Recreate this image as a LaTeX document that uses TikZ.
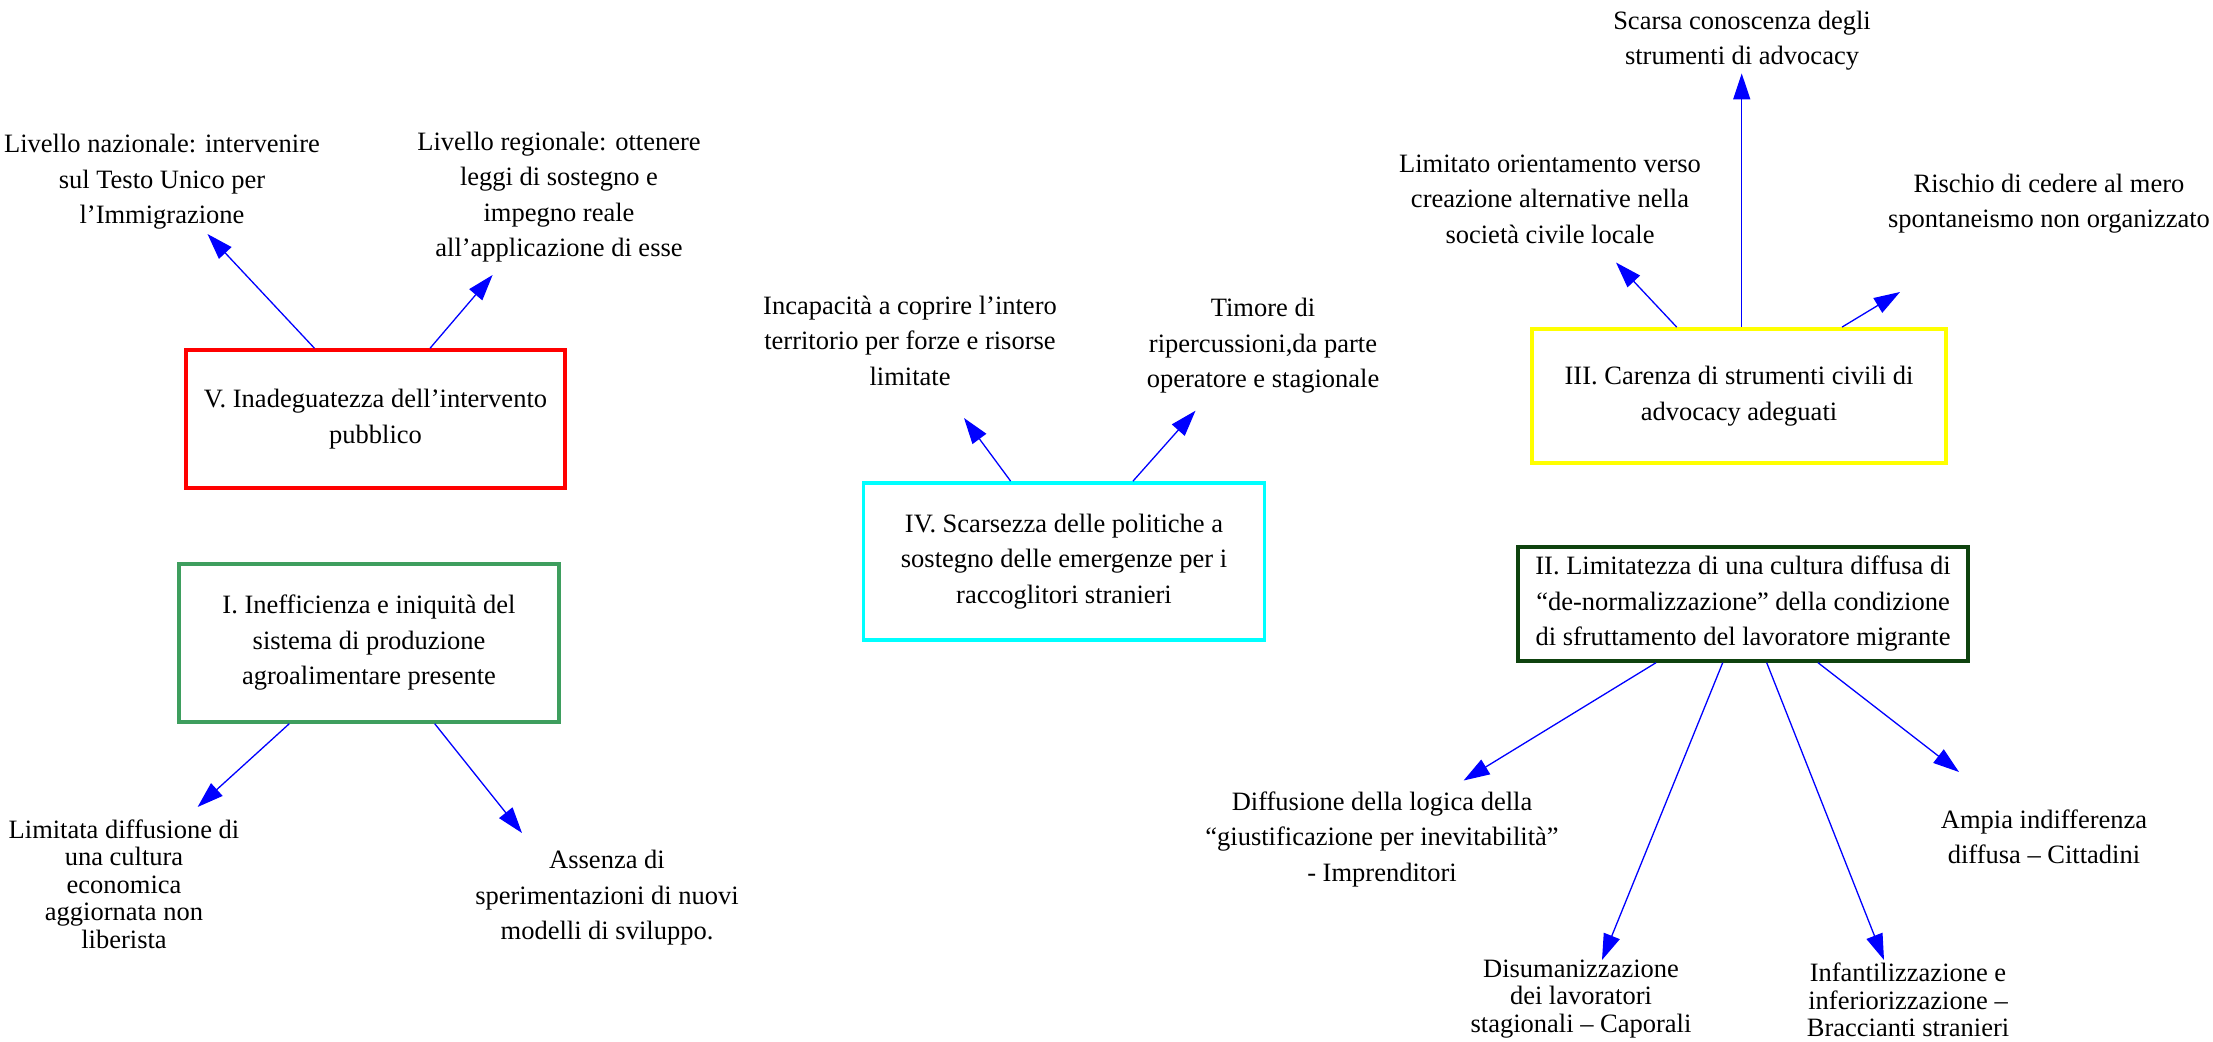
\documentclass[tikz,border=0pt]{standalone}
\usepackage{fontspec}
\setmainfont{Liberation Serif}
\usetikzlibrary{arrows.meta}
\definecolor{boxgreen}{HTML}{3E9E5E}
\definecolor{darkgreen}{HTML}{0E420E}
\definecolor{boxcyan}{HTML}{00FFFF}
\definecolor{boxyellow}{HTML}{FFFF00}
\definecolor{boxred}{HTML}{FF0000}
\definecolor{arrblue}{HTML}{0000FF}
\tikzset{
  lbl/.style={align=center, inner sep=0pt, font=\fontsize{26.5}{35.5}\selectfont},
  tight/.style={font=\fontsize{26.5}{27.5}\selectfont},
  box/.style={draw, align=center, inner sep=0pt, line width=3.4pt, font=\fontsize{26.5}{35.5}\selectfont},
  arr/.style={draw=arrblue, line width=1.3pt, -{Triangle[length=26pt,width=17pt]}, arrblue}
}
\begin{document}
\begin{tikzpicture}[x=1pt,y=-1pt]
\useasboundingbox (0,0) rectangle (2213,1041);
% boxes
\node[box, draw=boxred, minimum width=379pt, minimum height=138pt] (V) at (375.5,419) {V. Inadeguatezza dell’intervento\\pubblico};
\node[box, draw=boxgreen, minimum width=380pt, minimum height=158pt] (I) at (369,643) {I. Inefficienza e iniquità del\\sistema di produzione\\agroalimentare presente};
\node[box, draw=boxcyan, line width=3.8pt, minimum width=401pt, minimum height=157pt] (IV) at (1064,561.5) {IV. Scarsezza delle politiche a\\sostegno delle emergenze per i\\raccoglitori stranieri};
\node[box, draw=boxyellow, line width=3.8pt, minimum width=414pt, minimum height=134pt] (III) at (1739,396) {III. Carenza di strumenti civili di\\advocacy adeguati};
\node[box, draw=darkgreen, minimum width=450pt, minimum height=114pt] (II) at (1743,604) {II. Limitatezza di una cultura diffusa di\\“de-normalizzazione” della condizione\\di sfruttamento del lavoratore migrante};
% labels
\node[lbl] (nat) at (162,182) {Livello nazionale: intervenire\\sul Testo Unico per\\l’Immigrazione};
\node[lbl] (reg) at (559,197) {Livello regionale: ottenere\\leggi di sostegno e\\impegno reale\\all’applicazione di esse};
\node[lbl,tight] (lim) at (124,884) {Limitata diffusione di\\una cultura\\economica\\aggiornata non\\liberista};
\node[lbl] (ass) at (607,898) {Assenza di\\sperimentazioni di nuovi\\modelli di sviluppo.};
\node[lbl] (inc) at (910,340.5) {Incapacità a coprire l’intero\\territorio per forze e risorse\\limitate};
\node[lbl] (tim) at (1263,346) {Timore di\\ripercussioni,da parte\\operatore e stagionale};
\node[lbl] (sca) at (1742,40.5) {Scarsa conoscenza degli\\strumenti di advocacy};
\node[lbl] (lio) at (1550,199) {Limitato orientamento verso\\creazione alternative nella\\società civile locale};
\node[lbl] (ris) at (2049,203.5) {Rischio di cedere al mero\\spontaneismo non organizzato};
\node[lbl] (dif) at (1382,839) {Diffusione della logica della\\“giustificazione per inevitabilità”\\- Imprenditori};
\node[lbl] (amp) at (2044,837) {Ampia indifferenza\\diffusa – Cittadini};
\node[lbl,tight] (dis) at (1581,999) {Disumanizzazione\\dei lavoratori\\stagionali – Caporali};
\node[lbl,tight] (inf) at (1908,1000) {Infantilizzazione e\\inferiorizzazione –\\Braccianti stranieri};
% arrow tips
\coordinate (tNat) at (207.5,234);
\coordinate (tReg) at (492.6,275);
\coordinate (tLim) at (197.6,807);
\coordinate (tAss) at (522,833);
\coordinate (tInc) at (964,418);
\coordinate (tTim) at (1195.5,410.7);
\coordinate (tLio) at (1616,262.5);
\coordinate (tSca) at (1741.7,73.4);
\coordinate (tRis) at (1900,292);
\coordinate (tDif) at (1463.6,780.5);
\coordinate (tDis) at (1602,960);
\coordinate (tInf) at (1884,960);
\coordinate (tAmp) at (1959,772);
% arrows
\draw[arr] ([xshift=-61pt]V.north) -- (tNat);
\draw[arr] ([xshift=54.5pt]V.north) -- (tReg);
\draw[arr] ([xshift=-79.7pt]I.south) -- (tLim);
\draw[arr] ([xshift=65.7pt]I.south) -- (tAss);
\draw[arr] ([xshift=-53.4pt]IV.north) -- (tInc);
\draw[arr] ([xshift=69pt]IV.north) -- (tTim);
\draw[arr] ([xshift=-62.3pt]III.north) -- (tLio);
\draw[arr] ([xshift=2.7pt]III.north) -- (tSca);
\draw[arr] ([xshift=103pt]III.north) -- (tRis);
\draw[arr] ([xshift=-87pt]II.south) -- (tDif);
\draw[arr] ([xshift=-20.3pt]II.south) -- (tDis);
\draw[arr] ([xshift=23.7pt]II.south) -- (tInf);
\draw[arr] ([xshift=75pt]II.south) -- (tAmp);
\end{tikzpicture}
\end{document}
